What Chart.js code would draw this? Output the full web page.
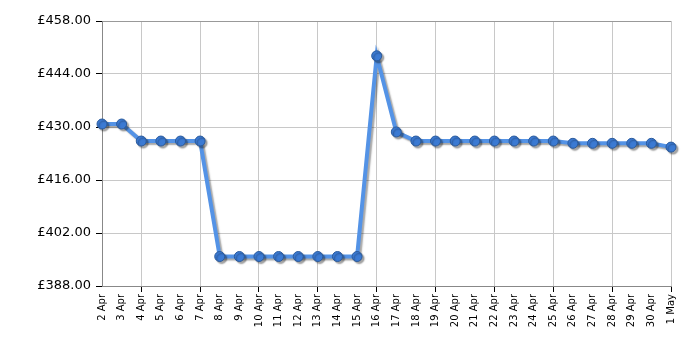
<!DOCTYPE html>
<html>
<head>
<meta charset="utf-8">
<script src="https://cdn.jsdelivr.net/npm/chart.js@4"></script>
<style>
  body { margin: 0; background: #fff; }
</style>
</head>
<body>
<canvas id="chart" width="700" height="350"></canvas>
<script>
const labels = [
  "2 Apr", "3 Apr", "4 Apr", "5 Apr", "6 Apr", "7 Apr", "8 Apr", "9 Apr", "10 Apr", "11 Apr",
  "12 Apr", "13 Apr", "14 Apr", "15 Apr", "16 Apr", "17 Apr", "18 Apr", "19 Apr", "20 Apr", "21 Apr",
  "22 Apr", "23 Apr", "24 Apr", "25 Apr", "26 Apr", "27 Apr", "28 Apr", "29 Apr", "30 Apr", "1 May"
];
const prices = [
  430.79, 430.79, 426.29, 426.29, 426.29, 426.29, 395.79, 395.79, 395.79, 395.79,
  395.79, 395.79, 395.79, 395.79, 448.79, 428.69, 426.29, 426.29, 426.29, 426.29,
  426.29, 426.29, 426.29, 426.29, 425.69, 425.69, 425.69, 425.69, 425.69, 424.69
];
const yMin = 388;
const yMax = 458;
const yStep = 14;

// soft grey shadow under the line and points
const shadowPlugin = {
  id: "shadow",
  beforeDatasetsDraw(chart) {
    const ctx = chart.ctx;
    ctx.save();
    ctx.shadowColor = "rgba(0,0,0,0.35)";
    ctx.shadowBlur = 1.5;
    ctx.shadowOffsetX = 2;
    ctx.shadowOffsetY = 2;
  },
  afterDatasetsDraw(chart) {
    chart.ctx.restore();
  }
};

const gridOn = (i) => (i - 2) % 3 === 0;

new Chart(document.getElementById("chart"), {
  type: "line",
  data: {
    labels: labels,
    datasets: [{
      data: prices,
      borderColor: "#5493e6",
      borderWidth: 4,
      pointRadius: 5,
      pointBackgroundColor: "#3b7ad3",
      pointBorderColor: "#2a5a9c",
      pointBorderWidth: 1,
      tension: 0,
      clip: false
    }]
  },
  options: {
    responsive: false,
    animation: false,
    layout: { padding: { top: 21, right: 29, left: 0, bottom: 0 } },
    plugins: { legend: { display: false }, tooltip: { enabled: false } },
    scales: {
      x: {
        offset: false,
        afterFit(scale) { scale.height = 64; },
        border: { color: "#888", width: 1 },
        grid: {
          color: (c) => gridOn(c.index) ? "#c8c8c8" : "rgba(0,0,0,0)",
          tickColor: (c) => gridOn(c.index) ? "#000" : "rgba(0,0,0,0)",
          tickLength: 6
        },
        ticks: {
          autoSkip: false,
          minRotation: 90,
          maxRotation: 90,
          color: "#000",
          padding: 2,
          font: { family: "DejaVu Sans", size: 10 }
        }
      },
      y: {
        min: yMin,
        max: yMax,
        afterFit(scale) { scale.width = 102; },
        border: { color: "#888", width: 1 },
        grid: {
          color: (c) => c.index === 5 ? "#999" : "#c8c8c8",
          tickColor: "#000",
          tickLength: 6
        },
        ticks: {
          stepSize: yStep,
          color: "#000",
          padding: 5,
          font: { family: "DejaVu Sans", size: 13 },
          callback: (v) => "£" + v.toFixed(2)
        }
      }
    }
  },
  plugins: [shadowPlugin]
});
</script>
</body>
</html>
